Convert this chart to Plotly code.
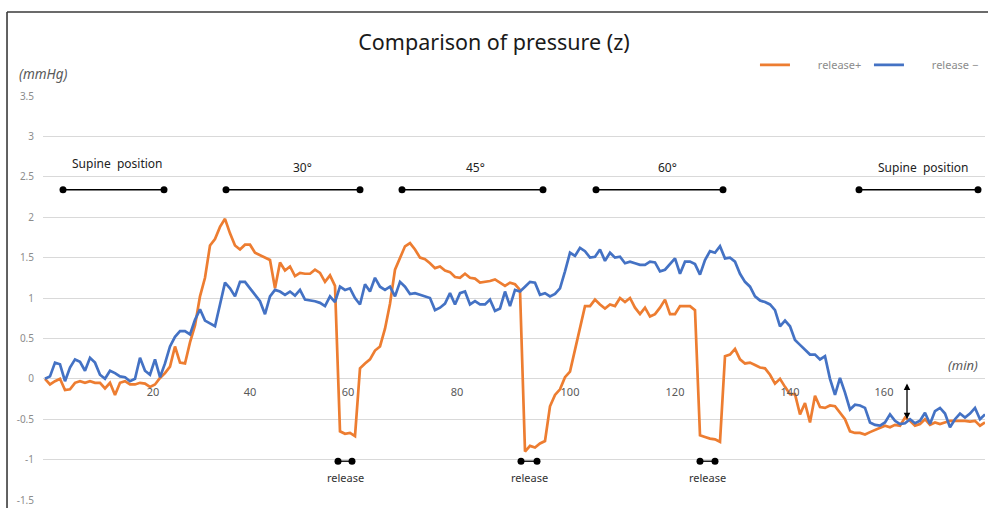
import plotly.graph_objects as go

# ---- data (sampled along the recording) ----
release_plus = [
    0.0, -0.07, -0.03, 0.0, -0.14, -0.13, -0.05, -0.03, -0.05, -0.03,
    -0.05, -0.05, -0.12, -0.05, -0.2, -0.05, -0.03, -0.07, -0.07, -0.05,
    -0.06, -0.1, -0.07, 0.01, 0.07, 0.15, 0.4, 0.2, 0.19, 0.45,
    0.66, 1.02, 1.25, 1.65, 1.73, 1.88, 1.98, 1.8, 1.65, 1.6,
    1.66, 1.66, 1.56, 1.53, 1.5, 1.47, 1.12, 1.44, 1.34, 1.39,
    1.27, 1.31, 1.3, 1.3, 1.35, 1.31, 1.2, 1.28, 1.15, -0.65,
    -0.68, -0.67, -0.71, 0.13, 0.19, 0.24, 0.35, 0.4, 0.62, 0.93,
    1.35, 1.5, 1.64, 1.68, 1.6, 1.5, 1.48,
    1.43, 1.37, 1.39, 1.34, 1.32, 1.26, 1.25, 1.3, 1.25, 1.24,
    1.19, 1.2, 1.21, 1.23, 1.19, 1.15, 1.19, 1.17, 1.1, -0.9,
    -0.83, -0.85, -0.8, -0.77, -0.34, -0.2, -0.13, 0.02, 0.09, 0.35,
    0.65, 0.9, 0.9, 0.98, 0.92, 0.87, 0.92, 0.9, 1.0,
    0.95, 1.0, 0.88, 0.8, 0.88, 0.77, 0.8, 0.88, 0.98, 0.8,
    0.8, 0.9, 0.9, 0.9, 0.85, -0.7, -0.72, -0.74, -0.75, -0.78,
    0.28, 0.3, 0.37, 0.24, 0.19, 0.2, 0.17, 0.14, 0.13, 0.05,
    -0.06, 0.0, -0.1, -0.19, -0.19, -0.44, -0.3, -0.54,
    -0.21, -0.35, -0.36, -0.33, -0.34, -0.42, -0.5, -0.65, -0.67, -0.67,
    -0.69, -0.66, -0.63, -0.6, -0.58, -0.6, -0.57, -0.58, -0.48, -0.52,
    -0.58, -0.56, -0.5, -0.57, -0.54, -0.56, -0.54, -0.52, -0.52, -0.52,
    -0.52, -0.53, -0.52, -0.58, -0.54,
]

release_minus = [
    0.0, 0.03, 0.2, 0.18, -0.03, 0.14, 0.24, 0.21, 0.1, 0.26,
    0.2, 0.05, 0.0, 0.1, 0.07, 0.03, 0.02, -0.03, 0.0, 0.26,
    0.1, 0.05, 0.24, 0.02, 0.19, 0.4, 0.52, 0.59, 0.59, 0.55,
    0.73, 0.86, 0.72, 0.68, 0.65, 0.92, 1.19, 1.12, 1.02, 1.2,
    1.2, 1.12, 1.04, 0.96, 0.8, 1.02, 1.1, 1.08, 1.04, 1.08,
    1.03, 1.1, 0.98, 0.97, 0.96, 0.94, 0.9, 1.02, 0.95, 1.14,
    1.1, 1.12, 1.0, 0.92, 1.17, 1.08, 1.25, 1.14, 1.1, 1.14,
    1.02, 1.2, 1.14, 1.05, 1.06, 1.04, 1.02,
    1.0, 0.85, 0.88, 0.93, 1.06, 0.92, 1.06, 1.08, 0.92, 0.96,
    0.92, 0.92, 0.98, 0.84, 0.87, 1.08, 0.9, 1.1, 1.08, 1.14,
    1.2, 1.19, 1.04, 1.06, 1.02, 1.05, 1.12, 1.33, 1.56, 1.52,
    1.62, 1.58, 1.5, 1.51, 1.6, 1.46, 1.56, 1.5, 1.51,
    1.43, 1.45, 1.43, 1.41, 1.41, 1.45, 1.44, 1.33, 1.35, 1.42,
    1.49, 1.3, 1.45, 1.45, 1.42, 1.29, 1.47, 1.58, 1.56, 1.64,
    1.49, 1.5, 1.45, 1.3, 1.2, 1.14, 1.02, 0.97, 0.95, 0.92,
    0.85, 0.65, 0.72, 0.65, 0.48, 0.42, 0.36, 0.3,
    0.3, 0.24, 0.28, 0.0, -0.2, 0.01, -0.17, -0.38, -0.32, -0.33,
    -0.36, -0.54, -0.57, -0.58, -0.54, -0.44, -0.52, -0.56, -0.55, -0.5,
    -0.55, -0.52, -0.42, -0.56, -0.4, -0.36, -0.43, -0.6, -0.5, -0.43,
    -0.48, -0.43, -0.36, -0.5, -0.44,
]

sample = list(range(len(release_plus)))

# category positions (sample index) carrying the minute labels
x_tick_pos = [21.6, 41, 60.6, 82.4, 105, 126, 149, 167.8]
x_tick_text = ["20", "40", "60", "80", "100", "120", "140", "160"]

y_tick_vals = [-1.5, -1, -0.5, 0, 0.5, 1, 1.5, 2, 2.5, 3, 3.5]
y_tick_text = ["-1.5", "-1", "-0.5", "0", "0.5", "1", "1.5", "2", "2.5", "3", "3.5"]

# posture phases: label, start sample, end sample
phase_labels = ["Supine\u00a0 position", "30°", "45°", "60°", "Supine\u00a0 position"]
phase_start = [3.6, 36.2, 71.4, 110.2, 162.8]
phase_end = [23.8, 63.0, 99.6, 135.6, 186.6]
phase_label_x = [14.4, 51.4, 86.0, 124.4, 175.6]
phase_label_y = [2.67, 2.61, 2.61, 2.61, 2.62]

# release periods
release_start = [58.6, 95.2, 131.0]
release_end = [61.4, 98.4, 134.0]

ORANGE = "#ED7D31"
BLUE = "#4472C4"
FONT = "Noto Sans"
PAD = "\u00a0" * 8

fig = go.Figure()

fig.add_trace(go.Scatter(x=sample, y=release_plus, mode="lines", name=PAD + "release+",
                         line=dict(color=ORANGE, width=2.7)))
fig.add_trace(go.Scatter(x=sample, y=release_minus, mode="lines", name=PAD + "release −",
                         line=dict(color=BLUE, width=2.7)))

# phase bars
for s, e in zip(phase_start, phase_end):
    fig.add_trace(go.Scatter(x=[s, e], y=[2.34, 2.34], mode="lines+markers",
                             line=dict(color="black", width=1.3),
                             marker=dict(color="black", size=7),
                             showlegend=False, hoverinfo="skip"))
for lab, lx, ly in zip(phase_labels, phase_label_x, phase_label_y):
    fig.add_annotation(x=lx, y=ly, text=lab, showarrow=False,
                       font=dict(family=FONT, size=12, color="#222"))

# release bars
for s, e in zip(release_start, release_end):
    fig.add_trace(go.Scatter(x=[s, e], y=[-1.02, -1.02], mode="lines+markers",
                             line=dict(color="black", width=1.3),
                             marker=dict(color="black", size=7),
                             showlegend=False, hoverinfo="skip"))
    fig.add_annotation(x=(s + e) / 2, y=-1.22, text="release", showarrow=False,
                       font=dict(family=FONT, size=11, color="#333"))

# double-headed arrow
fig.add_annotation(x=172.4, y=-0.5, ax=172.4, ay=-0.04, axref="x", ayref="y",
                   xref="x", yref="y", text="", showarrow=True,
                   arrowhead=2, startarrowhead=2, arrowside="end+start",
                   arrowsize=1, arrowwidth=1.3, arrowcolor="black")

# axis unit labels
fig.add_annotation(xref="paper", yref="paper", x=-0.0275, y=1.054, text="<i>(mmHg)</i>",
                   showarrow=False, xanchor="left", yanchor="middle",
                   font=dict(family=FONT, size=13.5, color="#595959"))
fig.add_annotation(x=183.6, y=0.17, text="<i>(min)</i>", showarrow=False,
                   font=dict(family=FONT, size=13, color="#595959"))

# outer frame (left and top)
fig.add_shape(type="line", xref="paper", yref="paper", x0=-0.0382, x1=-0.0382,
              y0=-0.03, y1=1.2079, line=dict(color="#3a3a3a", width=1.6))
fig.add_shape(type="line", xref="paper", yref="paper", x0=-0.0382, x1=1.01,
              y0=1.2079, y1=1.2079, line=dict(color="#3a3a3a", width=1.6))

fig.update_layout(
    width=988, height=508,
    margin=dict(l=43, r=3, t=96, b=8, autoexpand=False),
    paper_bgcolor="white", plot_bgcolor="white",
    title=dict(text="Comparison of pressure (z)", x=0.5, xanchor="center",
               y=0.917, yanchor="middle",
               font=dict(family=FONT, size=21.5, color="#1a1a1a")),
    font=dict(family=FONT),
    legend=dict(orientation="h", x=0.7558, xanchor="left", y=1.077, yanchor="middle",
                font=dict(family=FONT, size=11, color="#8c8c8c"),
                bgcolor="rgba(0,0,0,0)", itemwidth=30,
                entrywidth=69, entrywidthmode="pixels"),
    showlegend=True,
    xaxis=dict(range=[-0.4, 188], anchor="free", position=0.3,
               tickmode="array", tickvals=x_tick_pos, ticktext=x_tick_text,
               showgrid=False, zeroline=False, showline=False, ticks="",
               ticklabelstandoff=5,
               tickfont=dict(family=FONT, size=11, color="#595959")),
    yaxis=dict(range=[-1.5, 3.5], tickmode="array", tickvals=y_tick_vals,
               ticktext=y_tick_text, showgrid=True, gridcolor="#d9d9d9",
               gridwidth=1, zeroline=False, showline=False, ticks="",
               ticklabelstandoff=8,
               tickfont=dict(family=FONT, size=10, color="#8c8c8c")),
)

fig.write_html("out.html", config={"displayModeBar": False},
               post_script="document.body.style.margin='0';document.body.style.overflow='hidden';")
